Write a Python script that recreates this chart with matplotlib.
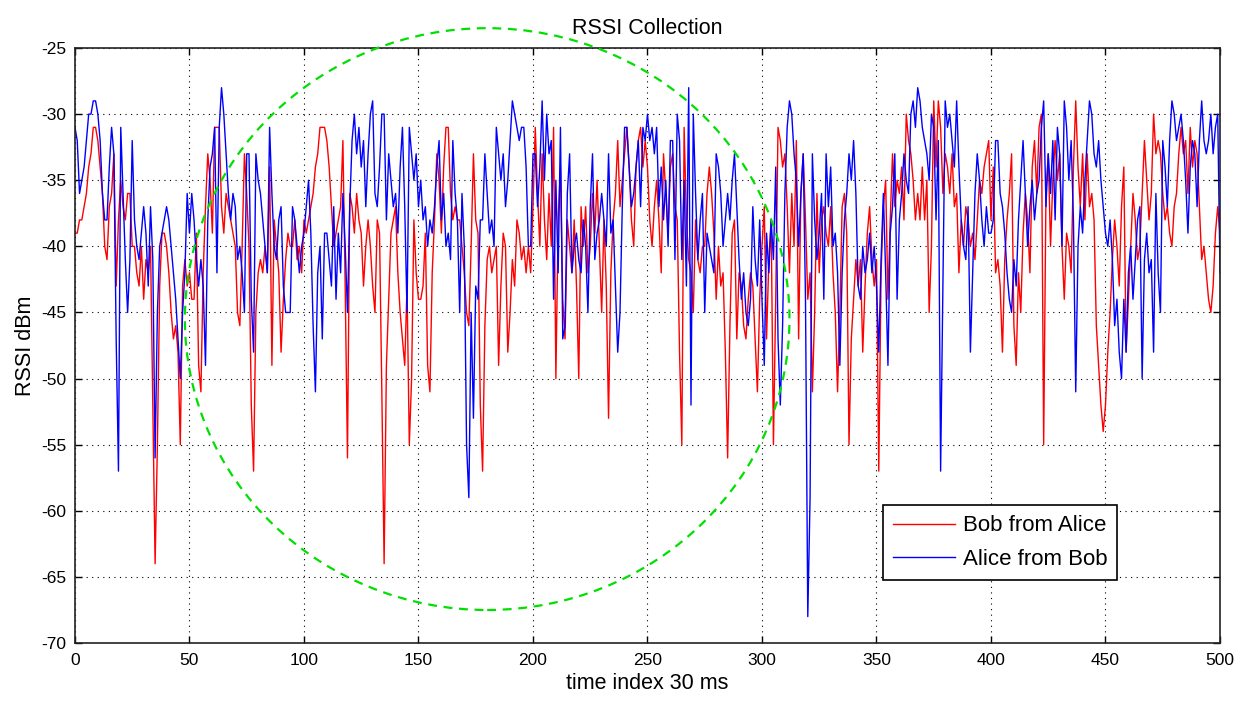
import numpy as np
import matplotlib
matplotlib.use("Agg")
import matplotlib.pyplot as plt
from matplotlib.patches import Ellipse

plt.rcParams['font.family'] = ['Liberation Sans', 'DejaVu Sans']
plt.rcParams['axes.unicode_minus'] = False

# RSSI samples (dBm), one per time index 0..500
bob_from_alice = [
    -39,
    -39, -38, -38, -37, -36, -34, -33, -31, -31, -32,
    -34, -36, -40, -41, -37, -36, -33, -43, -38, -35,
    -37, -38, -36, -36, -40, -40, -42, -43, -40, -44,
    -41, -42, -40, -52, -64, -55, -43, -39, -39, -40,
    -42, -45, -47, -46, -48, -55, -43, -41, -43, -42,
    -44, -44, -39, -49, -51, -42, -37, -33, -35, -39,
    -31, -31, -31, -37, -39, -36, -37, -38, -39, -40,
    -45, -46, -40, -33, -36, -40, -52, -57, -45, -42,
    -41, -42, -40, -42, -34, -49, -38, -40, -42, -48,
    -44, -41, -39, -40, -40, -38, -41, -40, -42, -38,
    -39, -38, -37, -36, -34, -33, -31, -31, -31, -32,
    -34, -37, -40, -39, -38, -37, -32, -43, -56, -36,
    -37, -39, -36, -38, -39, -43, -40, -38, -40, -43,
    -45, -38, -39, -51, -64, -49, -44, -39, -38, -37,
    -42, -45, -47, -49, -43, -55, -50, -38, -42, -44,
    -44, -43, -39, -49, -51, -42, -38, -33, -35, -39,
    -34, -31, -31, -36, -38, -37, -38, -38, -40, -42,
    -45, -46, -40, -33, -38, -39, -52, -57, -46, -41,
    -40, -42, -41, -40, -49, -43, -39, -40, -48, -45,
    -41, -43, -38, -39, -41, -40, -42, -40, -42, -37,
    -31, -36, -40, -33, -38, -41, -36, -40, -31, -50,
    -38, -34, -44, -47, -38, -40, -42, -38, -43, -50,
    -37, -40, -37, -42, -40, -36, -39, -35, -40, -45,
    -38, -43, -53, -42, -38, -36, -32, -37, -35, -33,
    -31, -34, -38, -40, -34, -32, -31, -34, -32, -34,
    -38, -40, -37, -35, -38, -42, -33, -36, -39, -34,
    -33, -37, -38, -48, -55, -31, -38, -41, -42, -45,
    -38, -41, -42, -40, -40, -36, -34, -36, -39, -44,
    -40, -43, -42, -48, -56, -46, -39, -38, -47, -42,
    -43, -46, -47, -44, -42, -43, -47, -51, -44, -40,
    -37, -47, -41, -38, -55, -44, -31, -32, -34, -33,
    -37, -42, -36, -40, -32, -47, -36, -33, -38, -44,
    -42, -51, -45, -36, -42, -38, -37, -39, -40, -37,
    -42, -45, -51, -45, -37, -36, -39, -55, -47, -44,
    -41, -43, -41, -48, -43, -39, -37, -41, -43, -41,
    -57, -42, -37, -35, -44, -38, -33, -37, -35, -36,
    -34, -38, -30, -32, -33, -35, -38, -36, -38, -34,
    -38, -35, -45, -40, -29, -34, -29, -31, -36, -33,
    -34, -36, -33, -37, -36, -42, -38, -40, -37, -38,
    -40, -39, -41, -38, -35, -36, -34, -33, -32, -38,
    -34, -42, -41, -43, -48, -41, -38, -36, -33, -46,
    -49, -42, -45, -39, -36, -38, -42, -34, -32, -36,
    -31, -30, -55, -36, -33, -40, -35, -32, -35, -33,
    -40, -44, -39, -40, -42, -34, -29, -34, -37, -33,
    -38, -33, -37, -36, -38, -46, -49, -52, -54, -52,
    -48, -45, -41, -38, -40, -43, -37, -34, -48, -44,
    -40, -36, -38, -41, -40, -36, -32, -35, -38, -36,
    -30, -33, -32, -33, -36, -38, -37, -39, -40, -37,
    -36, -33, -31, -33, -32, -36, -31, -34, -32, -33,
    -37, -41, -40, -42, -44, -45, -43, -39, -37, -39,
]

alice_from_bob = [
    -31,
    -32, -36, -35, -34, -32, -30, -30, -29, -29, -30,
    -32, -36, -38, -38, -34, -31, -33, -47, -57, -31,
    -36, -41, -45, -41, -32, -38, -40, -41, -39, -37,
    -39, -43, -37, -41, -56, -45, -40, -39, -38, -37,
    -38, -40, -42, -44, -47, -50, -45, -42, -36, -39,
    -36, -38, -41, -43, -41, -43, -49, -38, -34, -33,
    -31, -42, -31, -28, -30, -33, -36, -38, -36, -37,
    -41, -40, -42, -45, -33, -33, -44, -48, -33, -35,
    -36, -38, -40, -42, -31, -36, -40, -41, -38, -37,
    -43, -45, -45, -45, -37, -38, -40, -42, -40, -39,
    -37, -35, -39, -46, -51, -42, -40, -47, -39, -39,
    -41, -43, -37, -44, -39, -42, -36, -40, -45, -37,
    -32, -30, -33, -31, -34, -32, -37, -33, -30, -29,
    -36, -37, -34, -30, -30, -38, -33, -35, -37, -36,
    -39, -34, -31, -37, -45, -31, -33, -35, -33, -37,
    -35, -38, -37, -40, -38, -39, -37, -34, -32, -38,
    -36, -40, -39, -41, -32, -36, -38, -45, -36, -40,
    -55, -59, -45, -53, -43, -44, -38, -38, -33, -36,
    -39, -38, -40, -31, -33, -35, -33, -37, -35, -32,
    -29, -30, -31, -32, -31, -31, -34, -40, -40, -33,
    -33, -37, -34, -29, -35, -30, -33, -32, -44, -35,
    -42, -31, -47, -46, -36, -33, -42, -40, -39, -41,
    -42, -38, -40, -45, -37, -33, -41, -39, -38, -36,
    -38, -40, -33, -39, -38, -43, -48, -45, -37, -31,
    -31, -34, -37, -36, -34, -32, -37, -31, -32, -30,
    -32, -31, -33, -31, -37, -34, -38, -35, -40, -32,
    -32, -41, -30, -32, -41, -35, -43, -28, -52, -30,
    -36, -41, -38, -36, -45, -39, -40, -41, -42, -33,
    -34, -36, -40, -38, -36, -38, -35, -33, -37, -41,
    -44, -42, -45, -46, -44, -37, -41, -43, -38, -44,
    -49, -39, -42, -38, -41, -34, -47, -52, -46, -36,
    -31, -29, -30, -33, -35, -40, -36, -33, -44, -68,
    -59, -33, -38, -41, -39, -36, -44, -33, -37, -34,
    -40, -39, -42, -49, -42, -38, -36, -33, -35, -32,
    -36, -43, -44, -40, -42, -41, -39, -42, -40, -43,
    -48, -41, -36, -42, -49, -39, -37, -33, -44, -38,
    -36, -33, -35, -36, -30, -29, -31, -28, -29, -31,
    -32, -33, -35, -30, -31, -38, -32, -57, -43, -29,
    -31, -30, -32, -34, -29, -34, -38, -40, -41, -37,
    -48, -42, -36, -33, -35, -38, -40, -37, -39, -39,
    -38, -32, -32, -36, -37, -39, -42, -44, -45, -41,
    -43, -38, -35, -32, -36, -40, -37, -35, -38, -36,
    -35, -31, -29, -37, -33, -36, -32, -38, -31, -33,
    -40, -29, -31, -35, -32, -38, -51, -40, -37, -39,
    -35, -32, -29, -30, -33, -34, -32, -35, -37, -39,
    -40, -38, -41, -46, -44, -48, -50, -44, -48, -42,
    -40, -44, -41, -38, -37, -50, -41, -39, -42, -41,
    -48, -36, -42, -45, -32, -34, -37, -32, -29, -30,
    -32, -31, -30, -32, -35, -39, -34, -32, -33, -37,
    -32, -29, -32, -33, -32, -30, -33, -31, -30, -42,
]

x_ticks = list(range(0, 501, 50))
y_ticks = list(range(-70, -24, 5))

# highlighted region (dashed ellipse), data units
ring_center = (180, -45.5)
ring_width = 264
ring_height = 44

fig = plt.figure(figsize=(12.43, 7.04), dpi=100)
ax = fig.add_axes([0.0603, 0.0866, 0.9212, 0.8452])

ax.plot(np.arange(len(bob_from_alice)), bob_from_alice, color='#ff0000', lw=1.0, label='Bob from Alice')
ax.plot(np.arange(len(alice_from_bob)), alice_from_bob, color='#0000ff', lw=1.0, label='Alice from Bob')

ring = Ellipse(ring_center, ring_width, ring_height, fill=False, edgecolor='#00e000',
               linestyle=(0, (4, 3)), lw=1.6, clip_on=False, zorder=5)
ax.add_patch(ring)

ax.set_xlim(0, 500)
ax.set_ylim(-70, -25)
ax.set_xticks(x_ticks)
ax.set_yticks(y_ticks)
ax.tick_params(direction='in', top=True, right=True, length=5, labelsize=12.5, width=1)
ax.tick_params(axis='x', pad=7)
ax.tick_params(axis='y', pad=6)
ax.grid(True, color='black', linestyle=(0, (1, 4)), linewidth=0.8)
for s in ax.spines.values():
    s.set_linewidth(1.2)
    s.set_color('#222222')

ax.set_title('RSSI Collection', fontsize=15.5, pad=10)
ax.set_xlabel('time index 30 ms', fontsize=15.5, labelpad=4)
ax.set_ylabel('RSSI dBm', fontsize=15.5, labelpad=4)

leg = ax.legend(loc='lower right', bbox_to_anchor=(0.92, 0.088), fontsize=16,
                fancybox=False, framealpha=1, edgecolor='black', handlelength=2.8,
                handletextpad=0.35, borderpad=0.45, labelspacing=0.55)
leg.get_frame().set_linewidth(1.2)

fig.savefig('out.png', dpi=100)
